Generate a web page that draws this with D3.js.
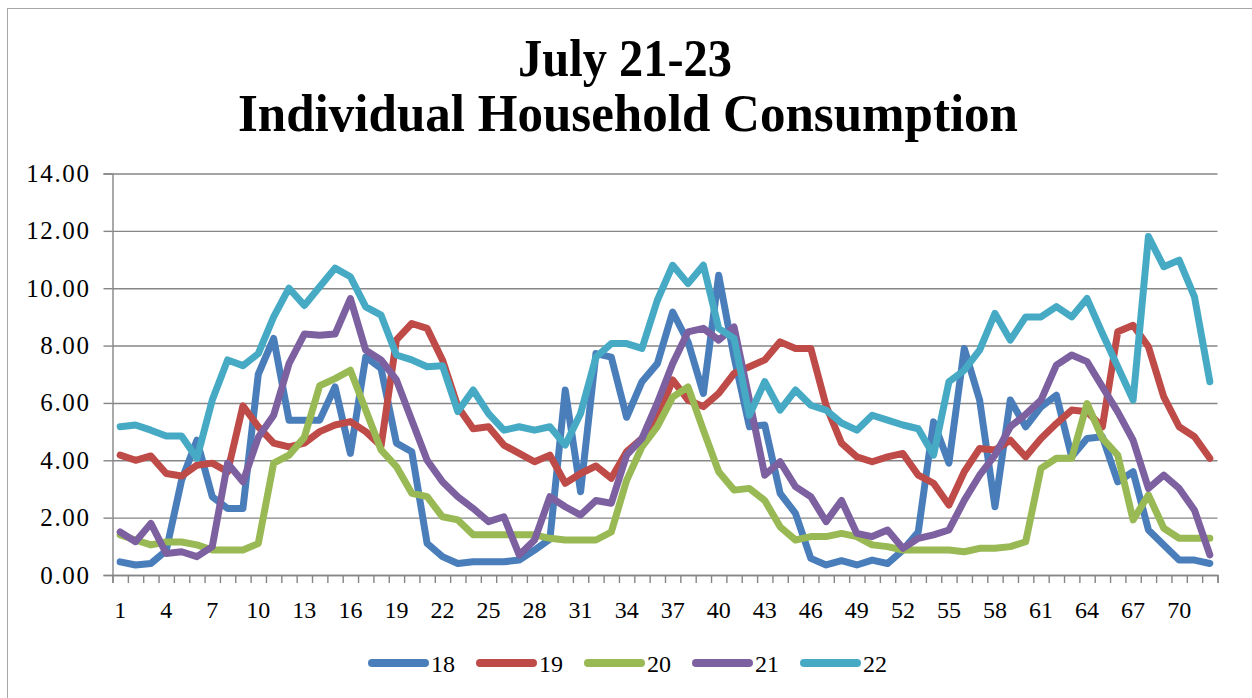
<!DOCTYPE html>
<html>
<head>
<meta charset="utf-8">
<script src="https://cdn.jsdelivr.net/npm/d3@7"></script>
<style>
  body { margin: 0; background: #fff; }
  svg { display: block; }
</style>
</head>
<body>
<svg id="chart" width="1252" height="698"></svg>
<script>
// category index 1..72
const categories = d3.range(1, 73);
const seriesNames = ['18', '19', '20', '21', '22'];
const seriesColors = ['#4a7ebb', '#be4b48', '#98b954', '#7d60a0', '#46aac5'];
const yTicks = [0, 2, 4, 6, 8, 10, 12, 14];
const xTickLabels = [1, 4, 7, 10, 13, 16, 19, 22, 25, 28, 31, 34, 37, 40, 43, 46, 49, 52, 55, 58, 61, 64, 67, 70];

const s18 = [0.46, 0.35, 0.4, 0.85, 3.3, 4.7, 2.73, 2.32, 2.32, 7.0, 8.25, 5.4,
  5.4, 5.4, 6.56, 4.24, 7.6, 7.2, 4.6, 4.3, 1.1, 0.64, 0.4, 0.46,
  0.46, 0.46, 0.52, 0.87, 1.25, 6.45, 2.9, 7.72, 7.6, 5.5, 6.74, 7.37,
  9.17, 8.13, 6.33, 10.45, 7.6, 5.17, 5.23, 2.85, 2.15, 0.58, 0.35, 0.5,
  0.35, 0.52, 0.4, 0.87, 1.5, 5.34, 3.9, 7.9, 6.1, 2.38, 6.1, 5.17,
  5.86, 6.27, 4.12, 4.76, 4.82, 3.25, 3.6, 1.57, 1.05, 0.52, 0.52, 0.4];
const s19 = [4.18, 4.0, 4.15, 3.54, 3.45, 3.83, 3.9, 3.6, 5.9, 5.17, 4.6, 4.47,
  4.6, 5.0, 5.23, 5.35, 5.0, 4.5, 8.2, 8.77, 8.6, 7.5, 5.87, 5.1,
  5.17, 4.53, 4.24, 3.95, 4.18, 3.2, 3.54, 3.8, 3.37, 4.3, 4.76, 5.46,
  6.8, 6.1, 5.87, 6.33, 7.03, 7.26, 7.5, 8.13, 7.9, 7.9, 5.9, 4.6,
  4.12, 3.95, 4.12, 4.24, 3.48, 3.2, 2.44, 3.6, 4.41, 4.36, 4.7, 4.12,
  4.76, 5.28, 5.75, 5.69, 5.17, 8.48, 8.71, 7.96, 6.21, 5.17, 4.82, 4.07];
const s20 = [1.4, 1.22, 1.05, 1.15, 1.15, 1.05, 0.87, 0.87, 0.87, 1.1, 3.9, 4.18,
  4.8, 6.6, 6.85, 7.14, 5.75, 4.36, 3.78, 2.85, 2.73, 2.03, 1.92, 1.4,
  1.4, 1.4, 1.4, 1.4, 1.28, 1.22, 1.22, 1.22, 1.5, 3.3, 4.47, 5.17,
  6.2, 6.56, 5.05, 3.6, 2.96, 3.02, 2.6, 1.68, 1.22, 1.34, 1.34, 1.45,
  1.34, 1.05, 0.99, 0.87, 0.87, 0.87, 0.87, 0.81, 0.93, 0.93, 0.99, 1.16,
  3.72, 4.07, 4.07, 5.98, 4.76, 4.18, 1.92, 2.79, 1.63, 1.28, 1.28, 1.28];
const s21 = [1.5, 1.16, 1.8, 0.75, 0.81, 0.64, 0.99, 3.9, 3.25, 4.8, 5.57, 7.37,
  8.4, 8.36, 8.4, 9.64, 7.84, 7.5, 6.8, 5.4, 4.0, 3.25, 2.73, 2.32,
  1.86, 2.03, 0.7, 1.22, 2.73, 2.38, 2.09, 2.6, 2.5, 4.18, 4.76, 6.0,
  7.37, 8.48, 8.6, 8.19, 8.65, 6.1, 3.48, 3.95, 3.08, 2.73, 1.86, 2.6,
  1.45, 1.34, 1.57, 0.93, 1.28, 1.4, 1.57, 2.6, 3.48, 4.18, 5.17, 5.6,
  6.1, 7.32, 7.67, 7.44, 6.56, 5.69, 4.7, 3.02, 3.48, 3.02, 2.26, 0.7];
const s22 = [5.17, 5.23, 5.05, 4.85, 4.85, 4.07, 6.1, 7.5, 7.3, 7.72, 9.0, 10.0,
  9.4, 10.05, 10.7, 10.4, 9.35, 9.06, 7.67, 7.5, 7.26, 7.3, 5.7, 6.45,
  5.63, 5.05, 5.17, 5.05, 5.17, 4.53, 5.63, 7.6, 8.07, 8.07, 7.9, 9.58,
  10.8, 10.16, 10.8, 8.6, 8.25, 5.57, 6.74, 5.75, 6.45, 5.92, 5.75, 5.3,
  5.05, 5.57, 5.4, 5.23, 5.1, 4.18, 6.74, 7.14, 7.84, 9.12, 8.19, 9.0,
  9.0, 9.36, 9.0, 9.64, 8.42, 7.26, 6.1, 11.8, 10.75, 10.98, 9.7, 6.74];

const seriesValues = [s18, s19, s20, s21, s22];

const font = '"Liberation Serif", "Times New Roman", serif';
const plot = {left: 112.5, right: 1217.5, top: 173.5, bottom: 575};

const svg = d3.select('#chart');

// chart area border (cropped at right/bottom)
svg.append('rect')
    .attr('x', 7.5).attr('y', 8.5)
    .attr('width', 1300).attr('height', 800)
    .attr('fill', '#fff')
    .attr('stroke', '#a6a6a6')
    .attr('stroke-width', 1);

// title
const title = svg.append('g')
    .attr('font-family', font)
    .attr('font-weight', 'bold')
    .attr('text-anchor', 'middle')
    .attr('fill', '#000');
title.append('text')
    .attr('x', 625).attr('y', 76)
    .attr('font-size', 52)
    .attr('textLength', 214)
    .attr('lengthAdjust', 'spacingAndGlyphs')
    .text('July 21-23');
title.append('text')
    .attr('x', 628).attr('y', 131)
    .attr('font-size', 52)
    .attr('textLength', 780)
    .attr('lengthAdjust', 'spacingAndGlyphs')
    .text('Individual Household Consumption');

// scales
const x = d3.scaleBand()
    .domain(categories)
    .range([plot.left, plot.right]);
const xEdge = d3.scaleLinear()
    .domain([0, categories.length])
    .range([plot.left, plot.right]);
const y = d3.scaleLinear()
    .domain([0, 14])
    .range([plot.bottom, plot.top]);

const gridColor = '#868686';

// y gridlines
svg.append('g')
    .attr('transform', `translate(${plot.left},0)`)
    .call(d3.axisLeft(y)
        .tickValues(yTicks)
        .tickSize(-(plot.right - plot.left))
        .tickFormat(''))
    .call(g => g.select('.domain').remove())
    .call(g => g.selectAll('line').attr('stroke', gridColor).attr('stroke-width', 1.4));

// y axis with outward ticks and labels
svg.append('g')
    .attr('transform', `translate(${plot.left},0)`)
    .call(d3.axisLeft(y)
        .tickValues(yTicks)
        .tickSize(9)
        .tickPadding(13)
        .tickFormat(d3.format('.2f')))
    .call(g => g.select('.domain').attr('stroke', gridColor).attr('stroke-width', 1.4))
    .call(g => g.selectAll('line').attr('stroke', gridColor).attr('stroke-width', 1.4))
    .call(g => g.selectAll('text')
        .attr('font-family', font)
        .attr('font-size', 25)
        .attr('letter-spacing', 1.6)
        .attr('fill', '#000'));

// x axis: tick marks between categories
svg.append('g')
    .attr('transform', `translate(0,${plot.bottom})`)
    .call(d3.axisBottom(xEdge)
        .tickValues(d3.range(0, categories.length + 1))
        .tickSize(8)
        .tickFormat(''))
    .call(g => g.select('.domain').attr('stroke', gridColor).attr('stroke-width', 1.4))
    .call(g => g.selectAll('line').attr('stroke', gridColor).attr('stroke-width', 1.4));

// x axis labels
svg.append('g')
    .attr('transform', `translate(0,${plot.bottom})`)
    .call(d3.axisBottom(x)
        .tickValues(xTickLabels)
        .tickSize(0)
        .tickPadding(26))
    .call(g => g.select('.domain').remove())
    .call(g => g.selectAll('text')
        .attr('font-family', font)
        .attr('font-size', 24)
        .attr('fill', '#000'));

// lines
const line = d3.line()
    .x((d, i) => x(categories[i]) + x.bandwidth() / 2)
    .y(d => y(d));

svg.append('g')
    .selectAll('path')
    .data(seriesValues)
    .join('path')
    .attr('d', d => line(d))
    .attr('fill', 'none')
    .attr('stroke', (d, i) => seriesColors[i])
    .attr('stroke-width', 7)
    .attr('stroke-linejoin', 'round')
    .attr('stroke-linecap', 'round');

// legend
const legend = svg.append('g')
    .attr('transform', 'translate(369,663)');
const item = legend.selectAll('g')
    .data(seriesNames)
    .join('g')
    .attr('transform', (d, i) => `translate(${i * 108},0)`);
item.append('line')
    .attr('x1', 3).attr('x2', 56)
    .attr('y1', 0).attr('y2', 0)
    .attr('stroke', (d, i) => seriesColors[i])
    .attr('stroke-width', 8)
    .attr('stroke-linecap', 'round');
item.append('text')
    .attr('x', 62).attr('y', 9)
    .attr('font-family', font)
    .attr('font-size', 24)
    .attr('fill', '#000')
    .text(d => d);
</script>
</body>
</html>
